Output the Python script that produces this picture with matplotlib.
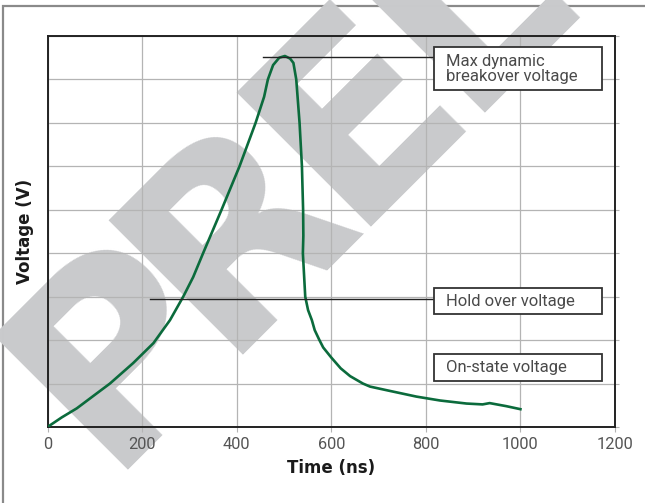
import numpy as np
import matplotlib
matplotlib.use("Agg")
import matplotlib.pyplot as plt
from matplotlib.patches import Rectangle

# waveform (time in ns, voltage in grid units)
time_ns = [0, 30, 62, 100, 132, 181, 224, 259, 287, 308, 329, 368, 406, 440,
           458, 466, 477, 490, 502, 513, 520, 526, 533, 538, 540.5, 541, 540,
           545, 551, 559, 565, 575, 583, 600, 620, 640, 667, 682, 720, 780,
           830, 886, 920, 935, 970, 1000]
voltage = [0, 0.22, 0.43, 0.74, 1.0, 1.47, 1.93, 2.46, 3.0, 3.45, 4.0, 5.0,
           6.0, 7.0, 7.6, 8.0, 8.33, 8.5, 8.54, 8.48, 8.38, 8.0, 7.0, 6.0,
           5.0, 4.4, 4.0, 3.0, 2.69, 2.46, 2.23, 2.0, 1.83, 1.6, 1.35, 1.17,
           1.0, 0.93, 0.84, 0.70, 0.61, 0.54, 0.52, 0.55, 0.48, 0.41]

x_ticks = [0, 200, 400, 600, 800, 1000, 1200]
y_grid = list(range(10))

# callout boxes
labels = ["Max dynamic\nbreakover voltage", "Hold over voltage", "On-state voltage"]
box_bottom = [7.76, 2.6, 1.06]
box_top = [8.74, 3.2, 1.68]
leader_start = [455, 216, None]
leader_y = [8.51, 2.94, None]
box_left, box_right = 817, 1172

green = "#0b6b3c"
text_grey = "#4a4a4a"

W, H = 645, 503
fig = plt.figure(figsize=(W / 100, H / 100), dpi=100)

# outer frame
fig.add_artist(Rectangle((3 / W, -0.2), 1.2, 1.2 - 6 / H, transform=fig.transFigure,
                         fill=False, edgecolor="#8a8a8a", linewidth=1.6, zorder=-2))

# watermark, letters set along a 45 degree baseline (x + y = const, px from top-left)
base = 574
mark_letters = ["P", "R", "E", "L"]
mark_stem_u = [-235, -72, 109, 270]   # stem offsets along the baseline, px
em = 260
for ch, u in zip(mark_letters, mark_stem_u):
    u0 = u - 0.092 * em
    px = (base + u0 * np.sqrt(2)) / 2
    py = (base - u0 * np.sqrt(2)) / 2
    fig.text(px / W, 1 - py / H, ch, fontsize=em * 0.72, fontweight="bold",
             family="DejaVu Sans", color="#c9cacc", rotation=45,
             rotation_mode="anchor", ha="left", va="baseline", zorder=-1)

ax = fig.add_axes([47.5 / W, 1 - 427 / H, 567.5 / W, 391 / H])
ax.set_facecolor("none")

ax.plot(time_ns, voltage, color=green, linewidth=1.9, zorder=3,
        solid_joinstyle="round")

for lab, b, t, xs, ly in zip(labels, box_bottom, box_top, leader_start, leader_y):
    if xs is not None:
        ax.plot([xs, box_left], [ly, ly], color="#222222", linewidth=1.0, zorder=4)
    ax.add_patch(Rectangle((box_left, b), box_right - box_left, t - b, facecolor="white",
                           edgecolor="#333333", linewidth=1.3, zorder=5))
    ax.text(box_left + 26, (b + t) / 2, lab, ha="left", va="center", fontsize=12,
            family="Roboto", color=text_grey, linespacing=1.0, zorder=6)

ax.set_xlim(0, 1200)
ax.set_ylim(0, 9)
ax.set_xticks(x_ticks)
ax.set_yticks(y_grid)
ax.grid(True, color="#b4b4b4", linewidth=0.9)
ax.set_axisbelow(True)

ax.tick_params(axis="x", direction="out", length=3.5, color="#b4b4b4", pad=4,
               labelsize=11.8, labelcolor="#555555")
ax.tick_params(axis="y", direction="out", length=3, color="#b4b4b4", left=False,
               right=True, labelleft=False)
for lbl in ax.get_xticklabels():
    lbl.set_family("Roboto")

for s in ax.spines.values():
    s.set_color("#222222")
    s.set_linewidth(1.4)

ax.set_xlabel("Time (ns)", fontsize=12, fontweight="bold", color="#1a1a1a")
ax.set_ylabel("Voltage (V)", fontsize=12, fontweight="bold", color="#1a1a1a")
ax.xaxis.set_label_coords(0.5, -0.082)
ax.yaxis.set_label_coords(-0.024, 0.5)

fig.savefig("out.png", dpi=100)
